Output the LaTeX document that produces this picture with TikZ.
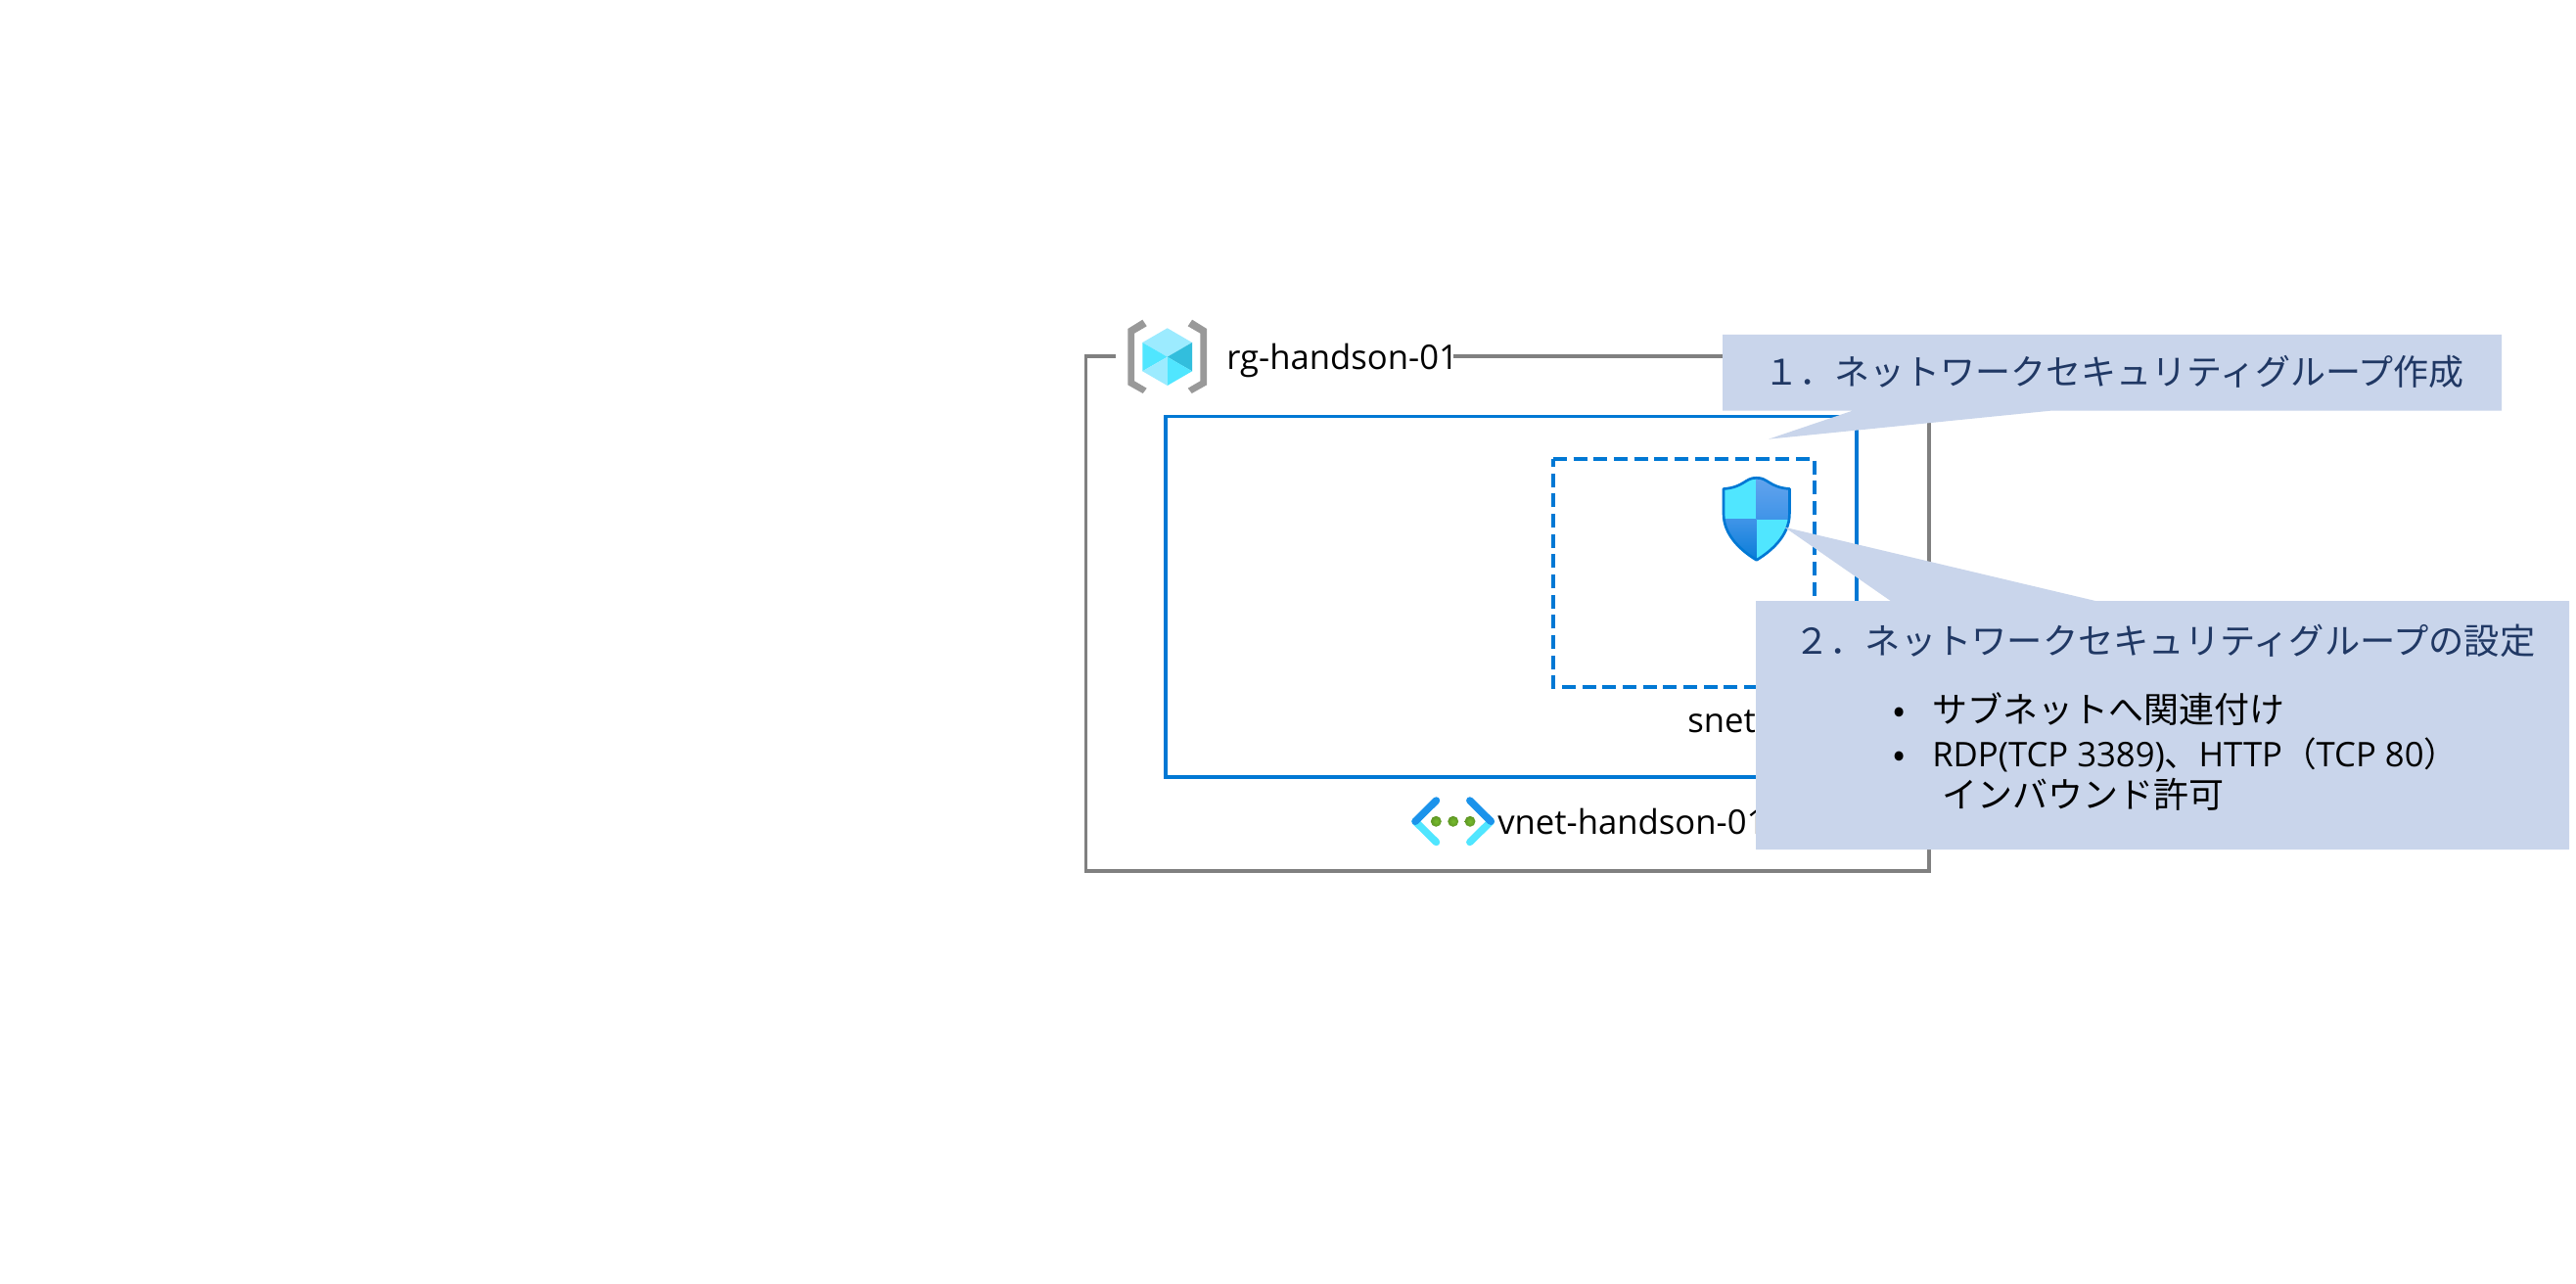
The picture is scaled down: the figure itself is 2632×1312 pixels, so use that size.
\documentclass[tikz,border=0pt]{standalone}
\usepackage{fontspec}
\setmainfont{Open Sans}
\newfontfamily\cjk{Noto Sans CJK JP}
\definecolor{azblue}{HTML}{0078D4}
\definecolor{rggray}{HTML}{808080}
\definecolor{callfill}{HTML}{C9D5EB}
\definecolor{calltext}{HTML}{203864}
\definecolor{cyanA}{HTML}{50E6FF}
\definecolor{cyanB}{HTML}{9CEBFF}
\definecolor{cyanC}{HTML}{32BEDD}
\definecolor{brk}{HTML}{999999}
\definecolor{shA}{HTML}{6AA6EE}
\definecolor{shB}{HTML}{3F94E8}
\definecolor{chev}{HTML}{1B93EB}
\definecolor{dotA}{HTML}{76BC2D}
\definecolor{dotB}{HTML}{5E9624}
\tikzset{
  grayframe/.style={draw=rggray,line width=2.45pt},
  blueframe/.style={draw=azblue,line width=2.45pt},
  callout/.style={fill=callfill,draw=none},
  lbl/.style={anchor=base west,inner sep=0pt,font=\fontsize{26}{30}\selectfont,text=black},
  calllbl/.style={anchor=base west,inner sep=0pt,font=\cjk\fontsize{27}{32}\selectfont,text=calltext},
  bodylbl/.style={anchor=base west,inner sep=0pt,font=\cjk\fontsize{27}{32}\selectfont,text=black},
  latinlbl/.style={anchor=base west,inner sep=0pt,font=\fontsize{26}{30}\selectfont,text=black},
  dotstyle/.style={inner color=dotA,outer color=dotB},
}
\begin{document}
\begin{tikzpicture}[x=0.75pt,y=-0.75pt,line join=miter]
\useasboundingbox (0,0) rectangle (2632,1312);
\fill[white] (0,0) rectangle (2632,1312);
% resource group frame
\draw[grayframe] (1140,364) -- (1109.5,364) -- (1109.5,890) -- (1971,890) -- (1971,364) -- (1485,364);
% vnet frame
\draw[blueframe] (1191,425.7) rectangle (1897,794);
% subnet frame
\draw[blueframe,dash pattern=on 10.5pt off 5pt] (1587,469) -- (1854,469) -- (1854,702) -- (1587,702) -- cycle;
% resource group icon
\fill[brk] (1167.3,326.7) -- (1171.7,333.3) -- (1159,340.7) -- (1159,389.3) -- (1171.7,396.7) -- (1167.7,402) -- (1152.3,393.3) -- (1152.3,336) -- cycle;
\fill[brk] (1218.1,326.7) -- (1213.7,333.3) -- (1226.4,340.7) -- (1226.4,389.3) -- (1213.7,396.7) -- (1217.7,402) -- (1233.1,393.3) -- (1233.1,336) -- cycle;
\fill[cyanB] (1192.7,335.3) -- (1218,350) -- (1192.7,364.7) -- (1167.3,350) -- cycle;
\fill[cyanC] (1218,350) -- (1218,379.3) -- (1192.7,364.7) -- cycle;
\fill[cyanA] (1167.3,350) -- (1192.7,364.7) -- (1167.3,379.3) -- cycle;
\fill[cyanB] (1167.3,379.3) -- (1192.7,364.7) -- (1192.7,394) -- cycle;
\fill[cyanA] (1218,379.3) -- (1192.7,364.7) -- (1192.7,394) -- cycle;
% shield icon
\begin{scope}
\clip (1794.7,488.3) .. controls (1783,488) and (1782,498) .. (1761,499.5) -- (1761,525) .. controls (1761,548) and (1781,564) .. (1794.7,572.3) .. controls (1808.4,564) and (1828.4,548) .. (1828.4,525) -- (1828.4,499.5) .. controls (1807.4,498) and (1806.4,488) .. (1794.7,488.3) -- cycle;
\fill[cyanA] (1755,480) rectangle (1794.7,530.7);
\shade[top color=shA,bottom color=shB] (1794.7,480) rectangle (1835,530.7);
\shade[top color=shB,bottom color=azblue] (1755,530.7) rectangle (1794.7,580);
\fill[cyanA] (1794.7,530.7) rectangle (1835,580);
\end{scope}
\draw[azblue,line width=2pt,line join=round] (1794.7,488.3) .. controls (1783,488) and (1782,498) .. (1761,499.5) -- (1761,525) .. controls (1761,548) and (1781,564) .. (1794.7,572.3) .. controls (1808.4,564) and (1828.4,548) .. (1828.4,525) -- (1828.4,499.5) .. controls (1807.4,498) and (1806.4,488) .. (1794.7,488.3) -- cycle;
% vnet icon
\draw[cyanA,line width=5.6pt,line cap=round] (1446,839.3) -- (1467.5,860.5);
\draw[cyanA,line width=5.6pt,line cap=round] (1523.3,839.3) -- (1501.8,860.5);
\draw[chev,line width=5.6pt,line cap=round] (1446,839.3) -- (1467.5,818);
\draw[chev,line width=5.6pt,line cap=round] (1523.3,839.3) -- (1501.8,818);
\shade[dotstyle] (1467.3,839.3) circle (4.1pt);
\shade[dotstyle] (1484.7,839.3) circle (4.1pt);
\shade[dotstyle] (1502,839.3) circle (4.1pt);
% labels
\node[lbl] (rg) at (1253,377.3) {rg-handson-01};
\node[lbl] (snet) at (1724,748) {snet};
\node[lbl] (vnet) at (1530,852.3) {vnet-handson-01};
% callouts
\fill[callout] (1760,342) -- (2556,342) -- (2556,419.7) -- (2095,419.7) -- (1807,448.7) -- (1892.7,419.7) -- (1760,419.7) -- cycle;
\fill[callout] (1794,614) -- (1931.7,614) -- (1823.3,538.7) -- (2141,614) -- (2625,614) -- (2625,868) -- (1794,868) -- cycle;
\node[calllbl] (c1) at (1802,394) {１．ネットワークセキュリティグループ作成};
\node[calllbl,font=\cjk\fontsize{27.2}{32}\selectfont] (c2) at (1833,668) {２．ネットワークセキュリティグループの設定};
\node[bodylbl] (b1) at (1934,738) {•};
\node[bodylbl] (l1) at (1974,738) {サブネットへ関連付け};
\node[bodylbl] (b2) at (1934,783) {•};
\node[latinlbl] (l2) at (1974,783) {RDP(TCP 3389){\cjk 、}HTTP{\cjk （}TCP 80{\cjk ）}};
\node[bodylbl] (l3) at (1984,825) {インバウンド許可};
\end{tikzpicture}
\end{document}
